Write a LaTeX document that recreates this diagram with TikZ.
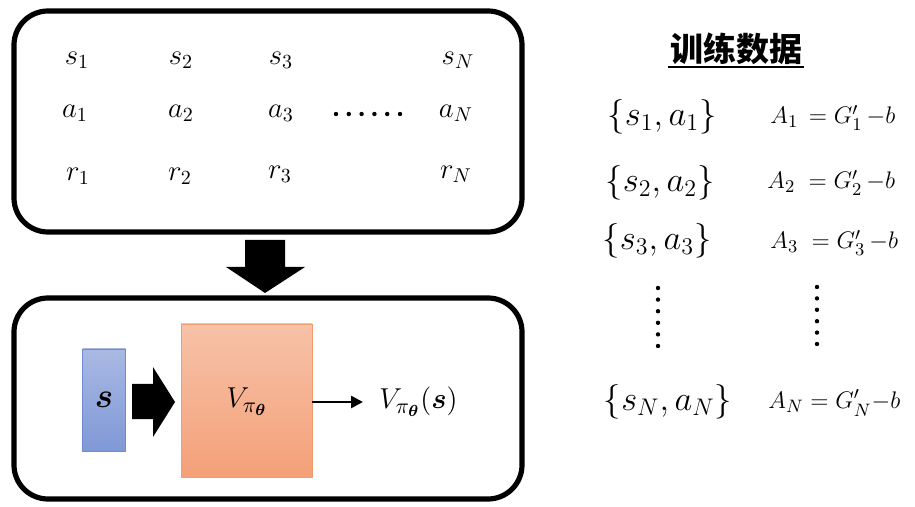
\documentclass[tikz,border=0pt]{standalone}
\usepackage{amsmath,bm}
\usepackage{fontspec}
\newfontfamily\cjk{Noto Sans CJK SC}
\usetikzlibrary{arrows.meta}
\definecolor{blueTop}{HTML}{A9B9E3}
\definecolor{blueBot}{HTML}{7F98D7}
\definecolor{blueEdge}{HTML}{6F8BCF}
\definecolor{orTop}{HTML}{F6C2A8}
\definecolor{orBot}{HTML}{F4A078}
\definecolor{orEdge}{HTML}{F29D6E}
\tikzset{
  bigbox/.style={draw=black, line width=2.6pt, rounded corners=17pt},
  tk/.style={font=\fontsize{14.5}{17}\selectfont, inner sep=0pt},
  rt/.style={font=\fontsize{17}{20}\selectfont, inner sep=0pt},
  eq/.style={font=\fontsize{12.2}{15}\selectfont, inner sep=0pt},
  vt/.style={font=\fontsize{15.5}{18}\selectfont, inner sep=0pt},
  vdotcol/.style={fill=black, circle, inner sep=0pt, minimum size=2.2pt}
}
\begin{document}
\begin{tikzpicture}[x=0.5pt, y=-0.5pt]
\useasboundingbox (0,0) rectangle (915,507);
% top box
\draw[bigbox] (14,11) rectangle (522,232);
\node[tk] (s1) at (77,60) {$s_1$};
\node[tk] (s2) at (181,60) {$s_2$};
\node[tk] (s3) at (281,60) {$s_3$};
\node[tk] (sN) at (458,60) {$s_N$};
\node[tk] (a1) at (75,113) {$a_1$};
\node[tk] (a2) at (181,113) {$a_2$};
\node[tk] (a3) at (281,113) {$a_3$};
\node[tk] (aN) at (456,113) {$a_N$};
\node[tk] (r1) at (78,176) {$r_1$};
\node[tk] (r2) at (180,176) {$r_2$};
\node[tk] (r3) at (280,174) {$r_3$};
\node[tk] (rN) at (456,174) {$r_N$};
\foreach \i in {0,...,5} {
  \node[vdotcol] (hd\i) at ({336+12.8*\i},114) {};
}
% big down arrow
\fill[black] (245,240) -- (285,240) -- (285,267) -- (305,267) -- (265,293) -- (226,267) -- (245,267) -- cycle;
% bottom box
\draw[bigbox] (14,298) rectangle (522,499);
\node[draw=blueEdge, top color=blueTop, bottom color=blueBot, minimum width=21.5pt, minimum height=51pt, inner sep=0pt, line width=0.4pt] (sbox) at (104,400) {\fontsize{16}{18}\selectfont$\bm{s}$};
\fill[black] (132,384) -- (153,384) -- (153,367) -- (175,402) -- (153,437) -- (153,419) -- (132,419) -- cycle;
\node[draw=orEdge, top color=orTop, bottom color=orBot, minimum width=65.5pt, minimum height=76.5pt, inner sep=0pt, line width=0.4pt] (vbox) at (246.5,400.5) {};
\node[vt] (vlab) at (247,402) {$V_{\pi_{\bm\theta}}$};
\node[vt, anchor=west] (vout) at (379,402) {$V_{\pi_{\bm\theta}}(\bm{s})$};
\coordinate (aend) at (363,402);
\draw[line width=1.3pt, -{Triangle[length=6pt,width=6pt]}] (vbox.east |- aend) -- (aend);
% right side
\node[font=\fontsize{16.5}{19}\selectfont\cjk\bfseries, inner sep=0pt] (title) at (736,49) {训练数据};
\draw[line width=1pt] (668,67) -- (804,67);
\node[rt] (p1) at (662,117) {$\{s_1,a_1\}$};
\node[rt] (p2) at (660,183) {$\{s_2,a_2\}$};
\node[rt] (p3) at (657,241) {$\{s_3,a_3\}$};
\node[rt] (pN) at (668,402) {$\{s_N,a_N\}$};
\node[eq, anchor=west] (e1) at (770,118) {$A_1\,=G'_1\,{-}b$};
\node[eq, anchor=west] (e2) at (767,183) {$A_2\;=G'_2\,{-}b$};
\node[eq, anchor=west] (e3) at (770,243) {$A_3\;=G'_3\,{-}b$};
\node[eq, anchor=west] (eN) at (768,403) {$A_N=G'_N{-}b$};
\foreach \i in {0,...,5} {
  \node[vdotcol] (ld\i) at (658,{288+11.6*\i}) {};
  \node[vdotcol] (rd\i) at (817,{287+11.4*\i}) {};
}
\end{tikzpicture}
\end{document}
